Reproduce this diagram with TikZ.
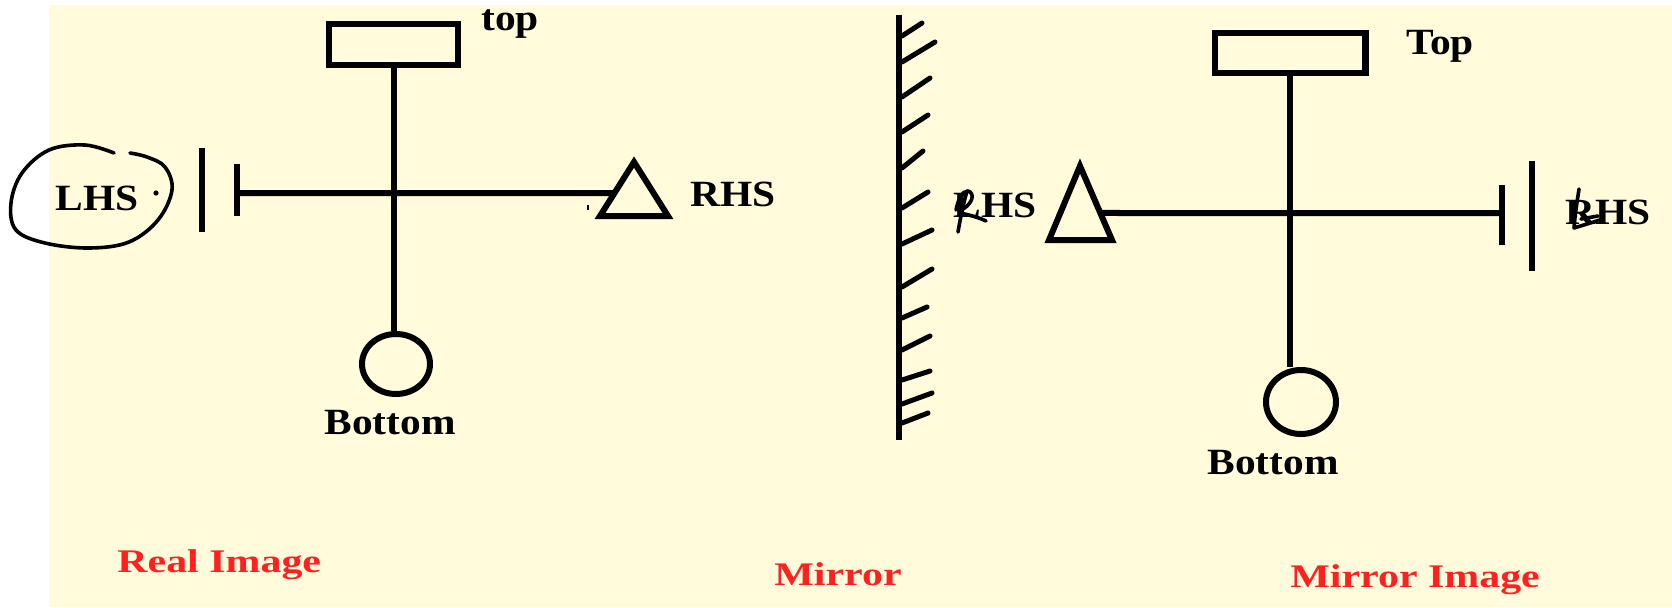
\documentclass[tikz,border=0pt]{standalone}
\usepackage{fontspec}
\setmainfont{Liberation Serif}
\usepackage{graphicx}
\usetikzlibrary{calc,shapes.geometric}
\definecolor{cream}{RGB}{255,251,219}
\definecolor{lblred}{RGB}{255,32,32}
\newcommand\blktxt[1]{\scalebox{1.12}[1]{#1}}
\newcommand\redtxt[1]{\scalebox{1.27}[1]{#1}}
\begin{document}
\begin{tikzpicture}[x=0.5pt,y=-0.5pt,line join=miter,
  stroke/.style={line width=3pt},
  boxshape/.style={draw,line width=3.2pt,rectangle,inner sep=0pt},
  bob/.style={draw,line width=3pt,ellipse,inner sep=0pt},
  lbl/.style={font=\bfseries\fontsize{18.5}{20}\selectfont,inner sep=0pt},
  caption/.style={font=\bfseries\fontsize{16.5}{18}\selectfont,text=lblred,inner sep=0pt,anchor=base west},
  hand/.style={line width=1.8pt,line cap=round,line join=round},
  hatch/.style={line width=2.5pt,line cap=round}]
\useasboundingbox (0,0) rectangle (1672,607);
\fill[white] (0,0) rectangle (1672,607);
\fill[cream] (49,5) rectangle (1672,607);

% ---------- Real image ----------
\node[boxshape,minimum width=64.3pt,minimum height=20.3pt] (topL) at (393.5,44.5) {};
\node[bob,minimum width=34pt,minimum height=30pt] (botL) at (396,364) {};
\draw[stroke] (topL.south) -- (topL.south |- botL.north);
\coordinate (tLa) at (634,162);
\coordinate (tLb) at (600,216);
\coordinate (tLc) at (668,216);
\draw[stroke] (tLa) -- (tLb) -- (tLc) -- cycle;
\coordinate (sbL1) at (237,164);
\coordinate (sbL2) at (237,216);
\coordinate (lbL1) at (202,148);
\coordinate (lbL2) at (202,232);
\draw[stroke] (sbL1) -- (sbL2);
\draw[stroke] (lbL1) -- (lbL2);
\coordinate (hL) at (237,193);
\coordinate (eL) at ($(tLa)!0.574!(tLb)$);
\draw[stroke] (hL) -- (eL);
\node[lbl] (topLtxt) at (510,24) {\blktxt{top}};
\node[lbl] (botLtxt) at (390,423) {\blktxt{Bottom}};
\node[lbl] (lhsL) at (97,198) {\blktxt{LHS}};
\node[lbl] (rhsL) at (733,194) {\blktxt{RHS}};
\fill (156,193) circle (1.3pt);
\draw[line width=0.6pt] (588,205) -- (588,210);
\draw[hand] plot[smooth,tension=0.6] coordinates {(114,153) (85,145) (49,150) (22,173) (11,203) (16,230) (45,243) (89,248) (129,242) (158,220) (172,190) (165,167) (147,157) (130,153)};

% ---------- Mirror ----------
\coordinate (mT) at (899,15);
\coordinate (mB) at (899,440);
\draw[line width=3.2pt] (mT) -- (mB);
\foreach \ys/\xe/\ye in {36/922/23, 62/935/42, 97/930/78, 132/928/115, 168/923/151, 208/928/192, 244/932/230, 287/932/269, 318/927/307, 350/930/336, 380/930/371, 404/932/393, 423/928/413}
  \draw[hatch] (902,\ys) -- (\xe,\ye);

% ---------- Mirror image ----------
\node[boxshape,minimum width=75.3pt,minimum height=19.8pt] (topR) at (1290,53) {};
\node[bob,minimum width=35pt,minimum height=32pt] (botR) at (1301,402) {};
\draw[stroke] (topR.south) -- (topR.south |- botR.north);
\coordinate (tRa) at (1080,166);
\coordinate (tRb) at (1049,240);
\coordinate (tRc) at (1112,240);
\draw[stroke] (tRa) -- (tRb) -- (tRc) -- cycle;
\coordinate (sbR1) at (1502,185);
\coordinate (sbR2) at (1502,245);
\coordinate (lbR1) at (1532,161);
\coordinate (lbR2) at (1532,271);
\draw[stroke] (sbR1) -- (sbR2);
\draw[stroke] (lbR1) -- (lbR2);
\coordinate (hR) at (1502,213);
\coordinate (eR) at ($(tRa)!0.635!(tRc)$);
\draw[stroke] (eR) -- (hR);
\node[lbl] (topRtxt) at (1440,46.5) {\blktxt{Top}};
\node[lbl] (botRtxt) at (1273,463) {\blktxt{Bottom}};
\node[lbl] (lhsR) at (995,205) {\blktxt{LHS}};
\node[lbl] (rhsR) at (1608,212) {\blktxt{RHS}};
% handwritten corrections
\draw[hand] (967,191) .. controls (963,205) and (960,220) .. (958,232);
\draw[hand] (956,210) .. controls (958,200) and (962,191) .. (968,191) .. controls (975,193) and (973,203) .. (963,209) .. controls (960,211) and (958,212) .. (960,213) .. controls (970,215) and (980,218) .. (986,221);
\draw[hand] (1579,189) .. controls (1577,202) and (1575,215) .. (1574,228) -- (1600,220);
\draw[hand] (1581,219) -- (1598,216);

% ---------- Captions ----------
\node[caption] (cap1) at (117,572) {\redtxt{Real Image}};
\node[caption] (cap2) at (774,585) {\redtxt{Mirror}};
\node[caption] (cap3) at (1290,587) {\redtxt{Mirror Image}};
\end{tikzpicture}
\end{document}
